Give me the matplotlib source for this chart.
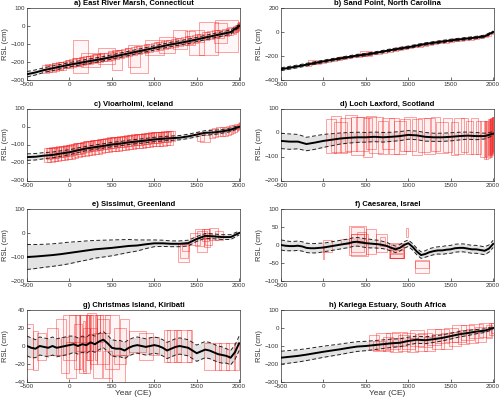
import numpy as np
import matplotlib
matplotlib.use("Agg")
import matplotlib.pyplot as plt
from matplotlib.patches import Rectangle
from matplotlib.collections import PatchCollection

plt.rcParams['font.family'] = ['Liberation Sans', 'DejaVu Sans']

years100 = list(range(-500, 2001, 100))
years50 = list(range(-500, 2001, 50))

titles = ['a) East River Marsh, Connecticut', 'b) Sand Point, North Carolina',
          'c) Vioarholmi, Iceland', 'd) Loch Laxford, Scotland',
          'e) Sissimut, Greenland', 'f) Caesarea, Israel',
          'g) Christmas Island, Kiribati', 'h) Kariega Estuary, South Africa']

# ---- a) East River Marsh ----
a_mean = [-268, -258, -245, -235, -225, -215, -207, -198, -190, -182, -172, -162, -152,
          -142, -132, -122, -112, -102, -94, -85, -75, -64, -54, -44, -34, 0]
a_err = [15, 14, 13, 13, 12, 12, 12, 12, 12, 12, 12, 12, 12, 12, 12, 12, 12, 12, 12,
         12, 12, 12, 12, 12, 12, 8]
a_boxes = [(-280, -240, 40, 22), (-240, -236, 40, 22), (-200, -232, 40, 22), (-160, -228, 40, 22),
           (-120, -222, 40, 22), (-80, -220, 40, 22), (-40, -214, 40, 22), (0, -210, 40, 22),
           (40, -206, 40, 22), (80, -202, 40, 22), (120, -200, 40, 22), (160, -194, 40, 22),
           (200, -190, 40, 22), (240, -188, 40, 22), (280, -184, 40, 22), (320, -180, 40, 22),
           (360, -176, 40, 22), (400, -172, 40, 22), (450, -170, 40, 22), (500, -166, 40, 22),
           (550, -160, 40, 22), (600, -154, 40, 22), (650, -150, 40, 22), (700, -144, 40, 22),
           (760, -138, 40, 22), (820, -134, 40, 22), (880, -128, 40, 22), (940, -122, 40, 22),
           (1000, -118, 40, 22), (1060, -112, 40, 22), (1120, -106, 40, 22), (1180, -100, 40, 22),
           (1240, -96, 40, 22), (1300, -90, 40, 22), (1360, -84, 40, 22), (1420, -78, 40, 22),
           (1480, -72, 40, 22), (1540, -66, 40, 22), (1600, -58, 40, 22), (1660, -52, 40, 22),
           (1720, -46, 40, 22), (1780, -42, 40, 22), (1840, -36, 40, 22), (1900, -28, 30, 22),
           (-260, -232, 30, 20), (-180, -224, 30, 20), (-100, -218, 30, 20), (-20, -208, 30, 20),
           (60, -200, 30, 20), (140, -192, 30, 20), (220, -186, 30, 20), (300, -178, 30, 20),
           (380, -170, 30, 20), (480, -160, 30, 20), (580, -152, 30, 20), (680, -142, 30, 20),
           (790, -132, 30, 20), (910, -122, 30, 20), (1030, -110, 30, 20), (1150, -100, 30, 20),
           (1270, -88, 30, 20), (1390, -76, 30, 20), (1510, -64, 30, 20), (1630, -52, 30, 20),
           (1750, -40, 30, 20), (1870, -30, 30, 20),
           (1940, -18, 15, 20), (1955, -25, 10, 20), (1965, -16, 10, 20), (1975, -12, 10, 20),
           (1985, -6, 8, 20), (1995, 0, 8, 20), (2000, 5, 6, 18),
           (130, -170, 85, 90), (250, -190, 110, 40), (440, -165, 100, 45), (560, -190, 60, 55),
           (760, -165, 70, 60), (820, -200, 110, 60), (1000, -120, 110, 40), (1150, -105, 90, 45),
           (1300, -75, 80, 55), (1420, -65, 60, 40), (1500, -90, 90, 70), (1640, -70, 115, 90),
           (1780, -40, 80, 55), (1850, -55, 135, 90)]

# ---- b) Sand Point ----
b_mean = [-310, -298, -286, -272, -258, -245, -232, -220, -208, -196, -188, -176, -163,
          -150, -138, -127, -113, -100, -90, -80, -70, -62, -54, -46, -36, 0]
b_err = [12, 12, 11, 11, 11, 10, 10, 10, 10, 10, 10, 10, 10, 10, 10, 10, 10, 10, 10,
         10, 10, 10, 10, 10, 10, 8]
b_boxes = [(-180, -268, 35, 12), (-120, -258, 35, 12), (-60, -252, 35, 12), (0, -244, 35, 12),
           (60, -238, 35, 12), (120, -230, 35, 12), (180, -222, 35, 12), (240, -216, 35, 12),
           (300, -208, 35, 12), (360, -200, 35, 12), (420, -194, 35, 12), (480, -188, 35, 12),
           (540, -181, 35, 12), (600, -175, 35, 12), (660, -168, 35, 12), (720, -160, 35, 12),
           (780, -153, 35, 12), (840, -146, 35, 12), (900, -139, 35, 12), (960, -132, 35, 12),
           (1020, -125, 35, 12), (1080, -117, 35, 12), (1140, -109, 35, 12), (1200, -101, 35, 12),
           (1260, -94, 35, 12), (1320, -88, 35, 12), (1380, -82, 35, 12), (1440, -76, 35, 12),
           (1500, -70, 35, 12), (1560, -66, 35, 12), (1620, -61, 35, 12), (1680, -56, 35, 12),
           (1740, -51, 35, 12), (1800, -46, 35, 12), (1860, -40, 30, 12), (1920, -32, 20, 12),
           (1960, -20, 15, 12), (1990, -6, 10, 12), (500, -178, 70, 18), (-130, -245, 50, 15)]

# ---- c) Vioarholmi ----
c_mean = [-170, -168, -162, -158, -150, -143, -132, -122, -115, -108, -100, -95, -88,
          -83, -78, -72, -68, -65, -62, -55, -45, -35, -33, -27, -18, -2]
c_err = [18, 18, 17, 16, 15, 14, 13, 12, 12, 12, 12, 12, 12, 12, 12, 12, 12, 12, 12,
         12, 12, 12, 12, 10, 10, 8]
c_ages = [-260, -220, -180, -140, -100, -60, -20, 20, 60, 100, 140, 180, 220, 260, 300, 340,
          380, 420, 460, 500, 540, 580, 620, 660, 700, 740, 780, 820, 860, 900, 940, 980,
          1020, 1060, 1100, 1140, 1180]
c_rsl = [-160, -158, -156, -153, -150, -147, -144, -140, -136, -132, -128, -124, -120, -118,
         -115, -112, -109, -106, -103, -100, -98, -96, -94, -91, -88, -86, -84, -82, -80,
         -78, -75, -73, -71, -70, -68, -66, -65]
c_boxes = [(t, r, 45, 38) for t, r in zip(c_ages, c_rsl)] + [
           (t + 20, r + 12, 40, 30) for t, r in zip(c_ages, c_rsl)] + [
           (1540, -55, 40, 25), (1600, -67, 60, 20), (1680, -40, 35, 25), (1720, -35, 35, 25),
           (1760, -30, 35, 25), (1800, -30, 30, 25), (1840, -25, 30, 25), (1870, -20, 30, 25),
           (1900, -15, 25, 25), (1930, -12, 20, 22), (1960, -8, 15, 20), (1980, -4, 10, 20),
           (1995, 0, 8, 20), (2000, 5, 6, 18)]

# ---- d) Loch Laxford ----
d_mean = [-35, -38, -38, -48, -42, -35, -30, -25, -22, -20, -20, -18, -20, -18, -15,
          -10, -12, -18, -20, -20, -18, -15, -13, -15, -15, -5]
d_err = [32, 32, 30, 28, 28, 27, 25, 23, 22, 21, 20, 20, 20, 19, 19, 18, 18, 18, 17, 17,
         17, 16, 15, 15, 12, 8]
d_boxes = [(90, -15, 60, 70), (150, -5, 60, 75), (200, -20, 80, 65), (260, -10, 60, 70),
           (330, 0, 70, 75), (400, -15, 80, 80), (450, -5, 70, 70), (520, -20, 50, 80),
           (560, 0, 60, 70), (620, -10, 80, 75), (700, -20, 60, 70), (760, -5, 70, 65),
           (830, -15, 60, 75), (900, -20, 70, 70), (960, -10, 60, 65), (1020, -5, 70, 70),
           (1100, -20, 60, 75), (1180, -10, 70, 70), (1250, -15, 60, 75), (1320, -5, 50, 70),
           (1400, -20, 70, 65), (1460, -10, 50, 70), (1540, -25, 40, 70), (1600, -15, 60, 75),
           (1660, -10, 40, 70), (1720, -20, 40, 70), (1780, -15, 40, 75), (1830, -20, 30, 70),
           (1870, -25, 30, 75), (1900, -30, 12, 80), (1915, -25, 10, 75), (1930, -30, 10, 80),
           (1945, -20, 10, 75), (1955, -25, 8, 80), (1965, -20, 8, 75), (1970, -22, 6, 80),
           (1975, -15, 8, 75), (1985, -20, 6, 80), (1990, -15, 5, 78), (1995, -10, 6, 75),
           (2000, -5, 5, 70)]

# ---- e) Sissimut ----
e_mean = [-100, -98, -95, -92, -88, -83, -78, -73, -68, -65, -62, -58, -54, -52, -47,
          -43, -43, -45, -45, -42, -25, -12, -14, -17, -17, 0]
e_err = [52, 50, 48, 47, 46, 45, 42, 40, 37, 35, 33, 30, 27, 23, 18, 14, 13, 12, 12, 12,
         10, 10, 10, 10, 10, 8]
e_boxes = [(1340, -80, 65, 40), (1350, -75, 50, 30), (1370, -60, 40, 15), (1480, -25, 60, 25),
           (1530, -20, 50, 35), (1560, -35, 60, 45), (1600, -10, 40, 25), (1620, -5, 40, 20),
           (1640, -25, 40, 25), (1620, -40, 40, 20), (1700, -5, 50, 25), (1760, -10, 50, 20)]

# ---- f) Caesarea ----
f_mean = [0, -2, -3, -3, -2, -4, -8, -9, -9, -8, -7, -5, -3, -1, 1, 3, 5, 8, 9, 7, 5, 4, 3,
          2, 0, -3, -8, -12, -8, 0, 5, -5, -18, -28, -25, -20, -17, -15, -15, -13, -12, -9,
          -8, -8, -10, -12, -12, -14, -16, -10, 3]
f_err = [14, 14, 13, 13, 13, 13, 13, 13, 13, 13, 12, 12, 12, 12, 12, 12, 12, 12, 12, 12,
         12, 12, 11, 11, 10, 10, 9, 9, 9, 9, 9, 9, 9, 9, 9, 10, 10, 10, 11, 11, 11, 11, 11,
         11, 11, 11, 11, 11, 11, 10, 10]
f_boxes = [(0, -21, 3, 19), (53, -3, 53, 16), (253, 10, 50, 7), (400, 12, 100, 40),
           (400, 30, 80, 20), (400, 5, 80, 25), (450, 20, 50, 15), (420, 0, 100, 30),
           (560, 10, 55, 35), (680, 5, 65, 25), (700, 10, 30, 12), (860, -15, 90, 20),
           (870, -25, 80, 12), (870, -10, 70, 12), (860, -30, 80, 6), (870, -20, 80, 15),
           (985, 35, 12, 12), (1160, -60, 85, 17), (1160, -55, 85, 10)]

# ---- g) Christmas Island ----
g_mean = [0, -2, -3, 0, -1, -2, 0, -2, -1, 0, 1, 2, 0, 2, 1, 4, 2, 5, 7, 3, -2, -3, -3,
          -5, -2, 0, 1, 0, -1, 0, 1, 0, -2, -5, -3, -1, 0, -1, -2, -5, -8, -6, -4, -5, -7,
          -9, -10, -11, -13, -7, 3]
g_err = [11, 11, 10, 10, 10, 10, 10, 10, 10, 10, 10, 9, 9, 9, 9, 9, 9, 9, 9, 9, 9, 9, 9,
         9, 9, 9, 9, 9, 9, 9, 9, 9, 9, 9, 9, 9, 9, 9, 9, 9, 9, 9, 9, 9, 9, 9, 9, 8, 8, 8, 8]
g_boxes = [(-470, 0, 40, 25), (-400, -5, 30, 22), (-330, 0, 50, 15), (-200, 5, 70, 15),
           (-100, 10, 60, 20), (-50, -10, 50, 20), (0, 10, 80, 25), (20, -15, 60, 20),
           (60, 20, 70, 15), (100, 0, 50, 25), (130, 15, 60, 20), (150, -10, 40, 20),
           (180, 20, 50, 15), (200, -5, 40, 25), (240, 10, 40, 25), (260, 25, 50, 12),
           (280, 0, 40, 20), (300, 15, 60, 20), (330, -10, 50, 25), (360, 20, 40, 15),
           (400, 5, 70, 25), (420, 25, 60, 10), (450, -20, 50, 15), (500, 5, 80, 30),
           (560, -25, 90, 15), (600, 0, 70, 20), (650, 10, 50, 20), (800, 5, 100, 12),
           (900, 0, 80, 15), (1000, 0, 60, 10), (1150, 0, 30, 18), (1200, 0, 50, 18),
           (1270, 0, 40, 18), (1350, 0, 80, 18), (1420, 0, 30, 18), (1650, -12, 60, 15),
           (1750, -12, 40, 15), (1820, -12, 60, 15), (1900, -12, 50, 15), (1970, -12, 30, 15),
           (120, 5, 10, 30), (170, 0, 8, 28), (220, 10, 10, 25), (250, 5, 8, 30), (310, 10, 10, 25)]

# ---- h) Kariega Estuary ----
h_mean = [-165, -160, -155, -148, -140, -132, -125, -118, -110, -103, -100, -95, -90, -85,
          -82, -72, -65, -68, -62, -55, -45, -35, -28, -20, -15, 0]
h_err = [36, 35, 34, 33, 32, 31, 30, 29, 28, 27, 26, 25, 24, 23, 22, 21, 20, 19, 18, 17,
         16, 15, 14, 12, 10, 8]
h_boxes = [(600, -80, 60, 40), (650, -100, 70, 30), (700, -75, 80, 45), (760, -90, 60, 40),
           (820, -70, 80, 45), (860, -95, 70, 40), (900, -60, 90, 40), (950, -85, 70, 45),
           (1000, -70, 80, 45), (1050, -95, 60, 40), (1100, -55, 80, 45), (1150, -80, 70, 45),
           (1200, -65, 80, 40), (1250, -90, 60, 40), (1300, -50, 80, 45), (1350, -75, 70, 40),
           (1400, -45, 80, 40), (1450, -70, 70, 45), (1500, -40, 80, 40), (1550, -60, 70, 40),
           (1600, -30, 80, 45), (1650, -50, 70, 40), (1700, -25, 80, 40), (1750, -45, 70, 40),
           (1800, -15, 80, 40), (1850, -35, 60, 40), (1900, -10, 70, 40), (1950, -20, 40, 35),
           (1980, -5, 30, 35), (2000, 0, 20, 30)]

panels = [
    (years100, a_mean, a_err, a_boxes, (-300, 100), [-300, -200, -100, 0, 100]),
    (years100, b_mean, b_err, b_boxes, (-400, 200), [-400, -200, 0, 200]),
    (years100, c_mean, c_err, c_boxes, (-300, 100), [-300, -200, -100, 0, 100]),
    (years100, d_mean, d_err, d_boxes, (-200, 100), [-200, -100, 0, 100]),
    (years100, e_mean, e_err, e_boxes, (-200, 100), [-200, -100, 0, 100]),
    (years50, f_mean, f_err, f_boxes, (-100, 100), [-100, -50, 0, 50, 100]),
    (years50, g_mean, g_err, g_boxes, (-40, 40), [-40, -20, 0, 20, 40]),
    (years100, h_mean, h_err, h_boxes, (-300, 100), [-300, -200, -100, 0, 100]),
]

fig = plt.figure(figsize=(5.02, 4.01), dpi=100)
lefts = [27 / 502, 281 / 502]
tops = [8, 108.5, 209, 310]
w, h = 213 / 502, 72 / 401

for i, (yrs, mean, err, boxes, ylim, yticks) in enumerate(panels):
    row, col = divmod(i, 2)
    ax = fig.add_axes([lefts[col], 1 - (tops[row] + 72) / 401, w, h])
    yrs = np.array(yrs)
    mean = np.array(mean)
    err = np.array(err)
    ax.fill_between(yrs, mean - err, mean + err, color='#e3e3e3', lw=0, zorder=1)
    rects = [Rectangle((t - dt, r - dr), 2 * dt, 2 * dr) for t, r, dt, dr in boxes]
    ax.add_collection(PatchCollection(rects, facecolor=(1, 0, 0, 0.03),
                                      edgecolor=(0.95, 0.1, 0.1, 0.5), lw=0.55, zorder=2))
    ax.plot(yrs, mean + err, color='#222222', ls=(0, (4, 2.5)), lw=0.7, zorder=3)
    ax.plot(yrs, mean - err, color='#222222', ls=(0, (4, 2.5)), lw=0.7, zorder=3)
    ax.plot(yrs, mean, color='black', lw=1.4, zorder=4)
    ax.set_xlim(-500, 2010)
    ax.set_ylim(*ylim)
    ax.set_xticks([-500, 0, 500, 1000, 1500, 2000])
    ax.set_yticks(yticks)
    ax.tick_params(direction='in', length=2, width=0.5, labelsize=4.5,
                   colors='#333333', pad=1.5)
    for s in ax.spines.values():
        s.set_linewidth(0.5)
        s.set_color('#333333')
    ax.set_title(titles[i], fontsize=5.5, fontweight='bold', pad=2)
    ax.set_ylabel('RSL (cm)', fontsize=5.5, color='#333333')
    ax.yaxis.set_label_coords(-0.083, 0.5)
    if row == 3:
        ax.set_xlabel('Year (CE)', fontsize=6, color='#333333', labelpad=1)

fig.savefig('out.png', dpi=100)
